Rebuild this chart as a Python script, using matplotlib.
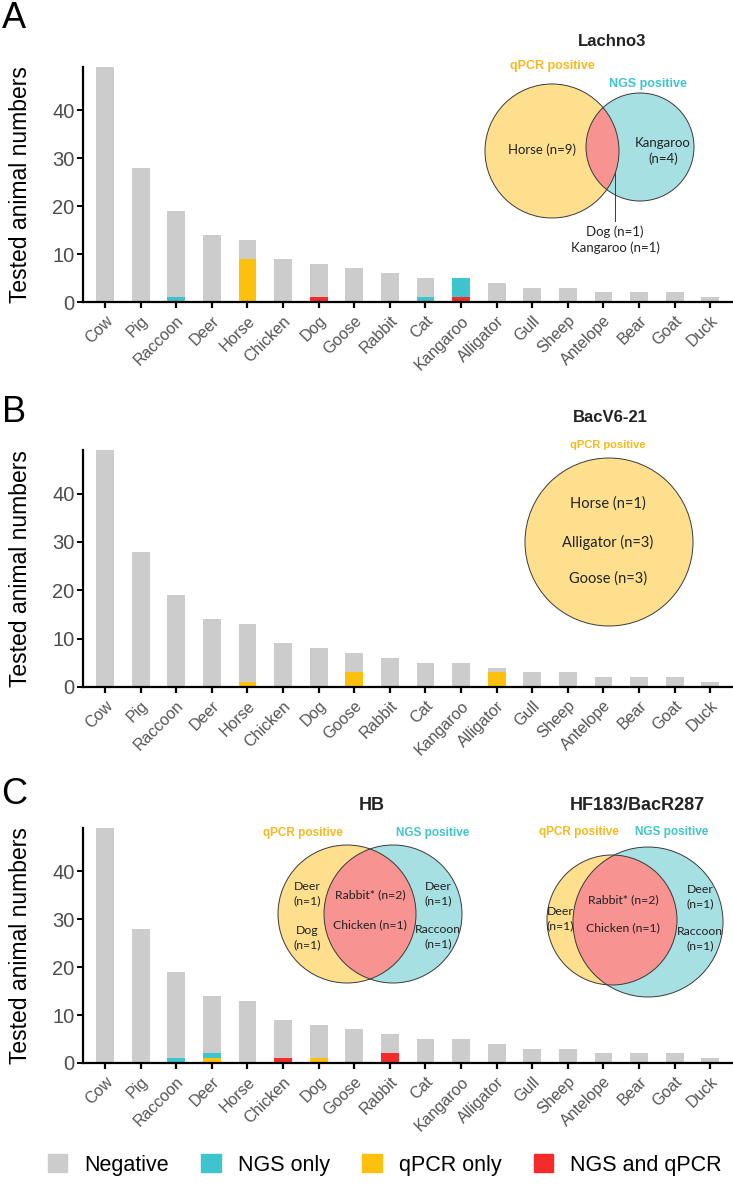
import matplotlib
matplotlib.use("Agg")
import numpy as np
import matplotlib.pyplot as plt
from matplotlib.patches import Circle, Patch

plt.rcParams["font.family"] = ["Liberation Sans", "DejaVu Sans"]

# ---- data -------------------------------------------------------------
animals = ["Cow", "Pig", "Raccoon", "Deer", "Horse", "Chicken", "Dog", "Goose",
           "Rabbit", "Cat", "Kangaroo", "Alligator", "Gull", "Sheep",
           "Antelope", "Bear", "Goat", "Duck"]
totals = [49, 28, 19, 14, 13, 9, 8, 7, 6, 5, 5, 4, 3, 3, 2, 2, 2, 1]

# Lachno3
ngs_a = {"Raccoon": 1, "Cat": 1, "Kangaroo": 4}
qpcr_a = {"Horse": 9}
both_a = {"Dog": 1, "Kangaroo": 1}
# BacV6-21
ngs_b = {}
qpcr_b = {"Horse": 1, "Goose": 3, "Alligator": 3}
both_b = {}
# HB
ngs_c = {"Raccoon": 1, "Deer": 1}
qpcr_c = {"Deer": 1, "Dog": 1}
both_c = {"Chicken": 1, "Rabbit": 2}

COL_NEG = "#CCCCCC"
COL_NGS = "#3EC4CC"
COL_QPCR = "#FDC10D"
COL_BOTH = "#F42B2B"

V_YEL = "#FDDF8E"
V_CYA = "#A6E0E3"
V_PNK = "#F79391"
V_EDGE = "#3A3A3A"
T_QPCR = "#F8B81C"
T_NGS = "#3EC4CC"

W, H = 733, 1193
fig = plt.figure(figsize=(W / 100, H / 100), dpi=100)


def px_axes(left, top, right, bottom):
    return fig.add_axes([left / W, 1 - bottom / H, (right - left) / W, (bottom - top) / H])


def as_array(d):
    return np.array([d.get(a, 0) for a in animals], dtype=float)


def bar_panel(top, bottom, ngs, qpcr, both):
    ax = px_axes(83, top, 733, bottom)
    x = np.arange(len(animals))
    b = as_array(both)
    q = as_array(qpcr)
    n = as_array(ngs)
    neg = np.array(totals) - b - q - n
    ax.bar(x, b, width=0.5, color=COL_BOTH)
    ax.bar(x, q, width=0.5, bottom=b, color=COL_QPCR)
    ax.bar(x, n, width=0.5, bottom=b + q, color=COL_NGS)
    ax.bar(x, neg, width=0.5, bottom=b + q + n, color=COL_NEG)
    ax.set_xlim(-0.62, 17.64)
    ax.set_ylim(0, 49)
    ax.set_yticks([0, 10, 20, 30, 40])
    ax.set_xticks(x)
    ax.set_xticklabels(animals, rotation=45, ha="right", rotation_mode="anchor",
                       fontsize=11.5, color="#555555")
    ax.tick_params(axis="y", labelsize=14.5, labelcolor="#4D4D4D", length=4, width=1.4, pad=2)
    ax.tick_params(axis="x", length=4, width=1.6, pad=4)
    for s in ["top", "right"]:
        ax.spines[s].set_visible(False)
    for s in ["left", "bottom"]:
        ax.spines[s].set_linewidth(1.6)
    ax.set_ylabel("Tested animal numbers", fontsize=16.5)
    ax.yaxis.set_label_coords(-0.078, 0.5)
    return ax


bar_panel(67, 302, ngs_a, qpcr_a, both_a)
bar_panel(450, 687, ngs_b, qpcr_b, both_b)
bar_panel(828, 1063, ngs_c, qpcr_c, both_c)

# panel letters
for letter, y in [("A", 18), ("B", 413), ("C", 795)]:
    fig.text(14 / W, 1 - y / H, letter, fontsize=26, ha="center", va="center")

# ---- venn overlays (pixel coordinates) -------------------------------
ov = fig.add_axes([0, 0, 1, 1])
ov.set_xlim(0, W)
ov.set_ylim(H, 0)
ov.axis("off")
ov.patch.set_alpha(0)

VFONT = ["Lato", "DejaVu Sans"]


def venn2(c1, r1, c2, r2):
    yel = Circle(c1, r1, fc=V_YEL, ec="none")
    ov.add_patch(yel)
    ov.add_patch(Circle(c2, r2, fc=V_CYA, ec="none"))
    lens = Circle(c2, r2, fc=V_PNK, ec="none")
    ov.add_patch(lens)
    lens.set_clip_path(yel)
    ov.add_patch(Circle(c1, r1, fill=False, ec=V_EDGE, lw=0.7))
    ov.add_patch(Circle(c2, r2, fill=False, ec=V_EDGE, lw=0.7))


def vtext(x, y, s, size=9.5, **kw):
    ov.text(x, y, s, ha="center", va="center", fontsize=size, family=VFONT,
            color="#222222", linespacing=1.35, **kw)


def label(x, y, s, color, size=8.5):
    ov.text(x, y, s, ha="center", va="center", fontsize=size, color=color,
            fontweight="bold")


# A: Lachno3
ov.text(612, 42, "Lachno3", ha="center", va="center", fontsize=12, fontweight="bold",
        color="#222222")
label(552, 66, "qPCR positive", T_QPCR, size=9)
label(648, 84, "NGS positive", T_NGS, size=9)
venn2((552, 151), 67, (640, 147), 54)
vtext(542, 150, "Horse (n=9)")
vtext(663, 151, "Kangaroo\n(n=4)")
ov.plot([615, 615], [172, 221], color=V_EDGE, lw=0.7)
vtext(615, 240, "Dog (n=1)\nKangaroo (n=1)")

# B: BacV6-21
ov.text(610, 418, "BacV6-21", ha="center", va="center", fontsize=12, fontweight="bold",
        color="#222222")
label(608, 445, "qPCR positive", T_QPCR, size=8)
ov.add_patch(Circle((609, 542), 84, fc=V_YEL, ec=V_EDGE, lw=0.7))
vtext(608, 504, "Horse (n=1)", size=10.5)
vtext(608, 542, "Alligator (n=3)", size=10.5)
vtext(608, 579, "Goose (n=3)", size=10.5)

# C: HB
ov.text(372, 805, "HB", ha="center", va="center", fontsize=13, fontweight="bold",
        color="#222222")
label(303, 833, "qPCR positive", T_QPCR, size=8.5)
label(433, 833, "NGS positive", T_NGS, size=8.5)
venn2((347, 914), 69, (393, 914), 69)
vtext(307, 894, "Deer\n(n=1)", size=8.8)
vtext(307, 938, "Dog\n(n=1)", size=8.8)
vtext(370, 895, "Rabbit* (n=2)", size=8.8)
vtext(370, 925, "Chicken (n=1)", size=8.8)
vtext(438, 894, "Deer\n(n=1)", size=8.8)
vtext(438, 937, "Raccoon\n(n=1)", size=8.8)

# C: HF183/BacR287
ov.text(637, 805, "HF183/BacR287", ha="center", va="center", fontsize=13,
        fontweight="bold", color="#222222")
label(579, 832, "qPCR positive", T_QPCR, size=8.5)
label(672, 832, "NGS positive", T_NGS, size=8.5)
venn2((612, 920), 65, (648, 922), 75)
vtext(560, 919, "Deer\n(n=1)", size=8.8)
vtext(623, 900, "Rabbit* (n=2)", size=8.8)
vtext(623, 928, "Chicken (n=1)", size=8.8)
vtext(700, 897, "Deer\n(n=1)", size=8.8)
vtext(700, 939, "Raccoon\n(n=1)", size=8.8)

# ---- legend -----------------------------------------------------------
handles = [Patch(color=COL_NEG, label="Negative"),
           Patch(color=COL_NGS, label="NGS only"),
           Patch(color=COL_QPCR, label="qPCR only"),
           Patch(color=COL_BOTH, label="NGS and qPCR")]
fig.legend(handles=handles, loc="center", bbox_to_anchor=(0.525, 1 - 1165 / H), ncol=4,
           frameon=False, fontsize=15.5, handlelength=0.9, handleheight=0.9,
           handletextpad=0.8, columnspacing=1.5)

fig.savefig("out.png", dpi=100)
